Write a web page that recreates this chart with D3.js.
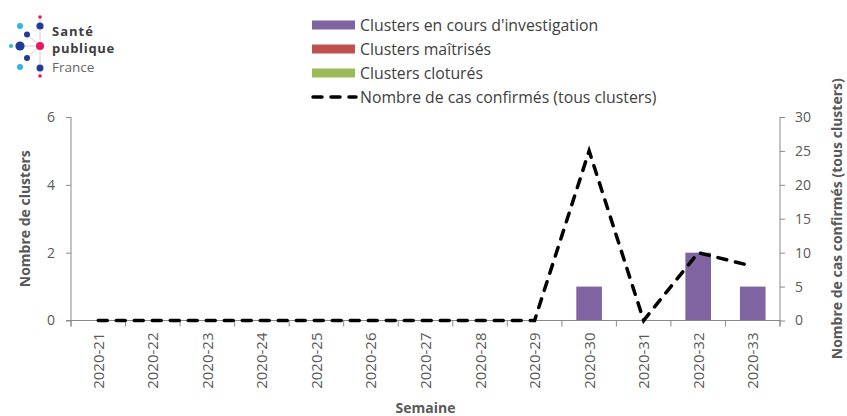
<!DOCTYPE html>
<html>
<head>
<meta charset="utf-8">
<script src="https://cdn.jsdelivr.net/npm/d3@7"></script>
<style>
  body { margin: 0; background: #fff; }
  svg text { font-family: "Open Sans", sans-serif; }
</style>
</head>
<body>
<div id="visualization"></div>
<script>
const weeks = ['2020-21', '2020-22', '2020-23', '2020-24', '2020-25', '2020-26', '2020-27',
  '2020-28', '2020-29', '2020-30', '2020-31', '2020-32', '2020-33'];
const enCours = [0, 0, 0, 0, 0, 0, 0, 0, 0, 1, 0, 2, 1];
const maitrises = [0, 0, 0, 0, 0, 0, 0, 0, 0, 0, 0, 0, 0];
const clotures = [0, 0, 0, 0, 0, 0, 0, 0, 0, 0, 0, 0, 0];
const casConfirmes = [0, 0, 0, 0, 0, 0, 0, 0, 0, 25, 0, 10, 8];
const leftTicks = [0, 2, 4, 6];
const rightTicks = [0, 5, 10, 15, 20, 25, 30];

const seriesNames = ['Clusters en cours d\'investigation', 'Clusters maîtrisés', 'Clusters cloturés'];
const seriesColors = ['#8064a2', '#c0504d', '#9bbb59'];
const lineName = 'Nombre de cas confirmés (tous clusters)';

const width = 847;
const height = 416;
const plot = { left: 71, right: 780, top: 117, bottom: 320.5 };
const axisColor = '#8a8a8a';
const textColor = '#595959';

const svg = d3.select('#visualization')
  .append('svg')
  .attr('width', width)
  .attr('height', height);

// logo
const logo = svg.append('g');
const logoLines = [[40, 17, 40, 76], [40, 46, 20, 46], [40, 46, 27, 34.5], [40, 46, 27, 58]];
logo.selectAll('line')
  .data(logoLines)
  .enter()
  .append('line')
  .attr('x1', (d) => d[0]).attr('y1', (d) => d[1])
  .attr('x2', (d) => d[2]).attr('y2', (d) => d[3])
  .attr('stroke', '#d9c8d4')
  .attr('stroke-width', 1);
const logoDots = [
  [40, 17, 1.8, '#e6175c'], [40, 26, 3.6, '#1f3d94'], [20, 26, 3, '#2bb5ea'],
  [27, 34.5, 3, '#1f3d94'], [11, 46, 2.1, '#2bb5ea'], [20, 46, 4.6, '#1f3d94'],
  [40, 46, 4, '#e6175c'], [27, 58, 3, '#1f3d94'], [20, 67, 3, '#2bb5ea'],
  [40, 68, 3.5, '#1f3d94'], [40, 76, 1.8, '#e6175c'],
];
logo.selectAll('circle')
  .data(logoDots)
  .enter()
  .append('circle')
  .attr('cx', (d) => d[0])
  .attr('cy', (d) => d[1])
  .attr('r', (d) => d[2])
  .attr('fill', (d) => d[3]);
const logoText = logo.append('text').attr('font-size', 13);
logoText.append('tspan').attr('x', 52).attr('y', 35.5).text('Santé')
  .attr('font-weight', 'bold').attr('letter-spacing', 1).attr('fill', '#3d3d3d');
logoText.append('tspan').attr('x', 52).attr('y', 53).text('publique')
  .attr('font-weight', 'bold').attr('letter-spacing', 0.7).attr('fill', '#3d3d3d');
logoText.append('tspan').attr('x', 52).attr('y', 71.5).text('France')
  .attr('font-size', 13.5).attr('fill', '#666');

// scales
const x = d3.scaleBand()
  .domain(weeks)
  .range([plot.left, plot.right])
  .paddingInner(0.53)
  .paddingOuter(0.265);
const xEdges = d3.scaleBand().domain(weeks).range([plot.left, plot.right]);
const yLeft = d3.scaleLinear().domain([0, 6]).range([plot.bottom, plot.top]);
const yRight = d3.scaleLinear().domain([0, 30]).range([plot.bottom, plot.top]);

// bars (stacked)
const rows = weeks.map((w, i) => ({
  week: w, enCours: enCours[i], maitrises: maitrises[i], clotures: clotures[i],
}));
const stack = d3.stack().keys(['enCours', 'maitrises', 'clotures'])(rows);
svg.append('g')
  .selectAll('g')
  .data(stack)
  .enter()
  .append('g')
  .attr('fill', (d, i) => seriesColors[i])
  .selectAll('rect')
  .data((d) => d.filter((p) => p[1] > p[0]))
  .enter()
  .append('rect')
  .attr('x', (d) => x(d.data.week))
  .attr('width', x.bandwidth())
  .attr('y', (d) => yLeft(d[1]))
  .attr('height', (d) => yLeft(d[0]) - yLeft(d[1]));

// axes
const gx = svg.append('g')
  .attr('transform', `translate(0,${plot.bottom})`);
gx.append('line')
  .attr('x1', plot.left - 5).attr('x2', plot.right)
  .attr('stroke', axisColor);
gx.selectAll('.edge')
  .data(weeks.concat(['end']))
  .enter()
  .append('line')
  .attr('x1', (d) => (d === 'end' ? plot.right : xEdges(d)))
  .attr('x2', (d) => (d === 'end' ? plot.right : xEdges(d)))
  .attr('y1', 0).attr('y2', 6)
  .attr('stroke', axisColor);
gx.selectAll('.lbl')
  .data(weeks)
  .enter()
  .append('text')
  .attr('transform', (d) => `translate(${x(d) + x.bandwidth() / 2 + 5.5},12) rotate(-90)`)
  .attr('text-anchor', 'end')
  .attr('font-size', 15)
  .attr('fill', textColor)
  .text((d) => d);

const gl = svg.append('g')
  .attr('transform', `translate(${plot.left},0)`)
  .call(d3.axisLeft(yLeft).tickValues(leftTicks).tickFormat(d3.format('d')).tickSize(5).tickPadding(11));
const gr = svg.append('g')
  .attr('transform', `translate(${plot.right},0)`)
  .call(d3.axisRight(yRight).tickValues(rightTicks).tickFormat(d3.format('d')).tickSize(5).tickPadding(10));
[gl, gr].forEach((g) => {
  g.select('.domain').attr('stroke', axisColor).attr('d', null);
  g.selectAll('.tick line').attr('stroke', axisColor);
  g.selectAll('.tick text')
    .attr('font-family', '"Open Sans", sans-serif')
    .attr('font-size', 14)
    .attr('fill', textColor);
});
gl.append('line').attr('y1', plot.top).attr('y2', plot.bottom + 6).attr('stroke', axisColor);
gr.append('line').attr('y1', plot.top).attr('y2', plot.bottom + 6).attr('stroke', axisColor);

// line
const line = d3.line()
  .x((d, i) => x(weeks[i]) + x.bandwidth() / 2)
  .y((d) => yRight(d));
svg.append('path')
  .datum(casConfirmes)
  .attr('d', line)
  .attr('fill', 'none')
  .attr('stroke', '#000')
  .attr('stroke-width', 3.5)
  .attr('stroke-linecap', 'round')
  .attr('stroke-dasharray', '9,9');

// axis titles
svg.append('text')
  .attr('transform', `translate(30,${(plot.top + plot.bottom) / 2}) rotate(-90)`)
  .attr('text-anchor', 'middle')
  .attr('font-size', 14)
  .attr('font-weight', 'bold')
  .attr('fill', textColor)
  .text('Nombre de clusters');
svg.append('text')
  .attr('transform', `translate(842,${(plot.top + plot.bottom) / 2}) rotate(-90)`)
  .attr('text-anchor', 'middle')
  .attr('font-size', 14)
  .attr('font-weight', 'bold')
  .attr('fill', textColor)
  .text('Nombre de cas confirmés (tous clusters)');
svg.append('text')
  .attr('x', (plot.left + plot.right) / 2)
  .attr('y', 413)
  .attr('text-anchor', 'middle')
  .attr('font-size', 14)
  .attr('font-weight', 'bold')
  .attr('fill', textColor)
  .text('Semaine');

// legend
const legend = svg.append('g').attr('transform', 'translate(312,0)');
const legendRows = [25, 49, 73];
seriesNames.forEach((name, i) => {
  legend.append('rect')
    .attr('x', 0).attr('y', legendRows[i] - 4.5)
    .attr('width', 43).attr('height', 9)
    .attr('fill', seriesColors[i]);
  legend.append('text')
    .attr('x', 48).attr('y', legendRows[i] + 5.5)
    .attr('font-size', 15.8)
    .attr('fill', '#404040')
    .text(name);
});
legend.append('line')
  .attr('x1', 1).attr('x2', 44).attr('y1', 97).attr('y2', 97)
  .attr('stroke', '#000')
  .attr('stroke-width', 3.5)
  .attr('stroke-linecap', 'round')
  .attr('stroke-dasharray', '9,9');
legend.append('text')
  .attr('x', 48).attr('y', 102.5)
  .attr('font-size', 15.8)
  .attr('fill', '#404040')
  .text(lineName);
</script>
</body>
</html>
